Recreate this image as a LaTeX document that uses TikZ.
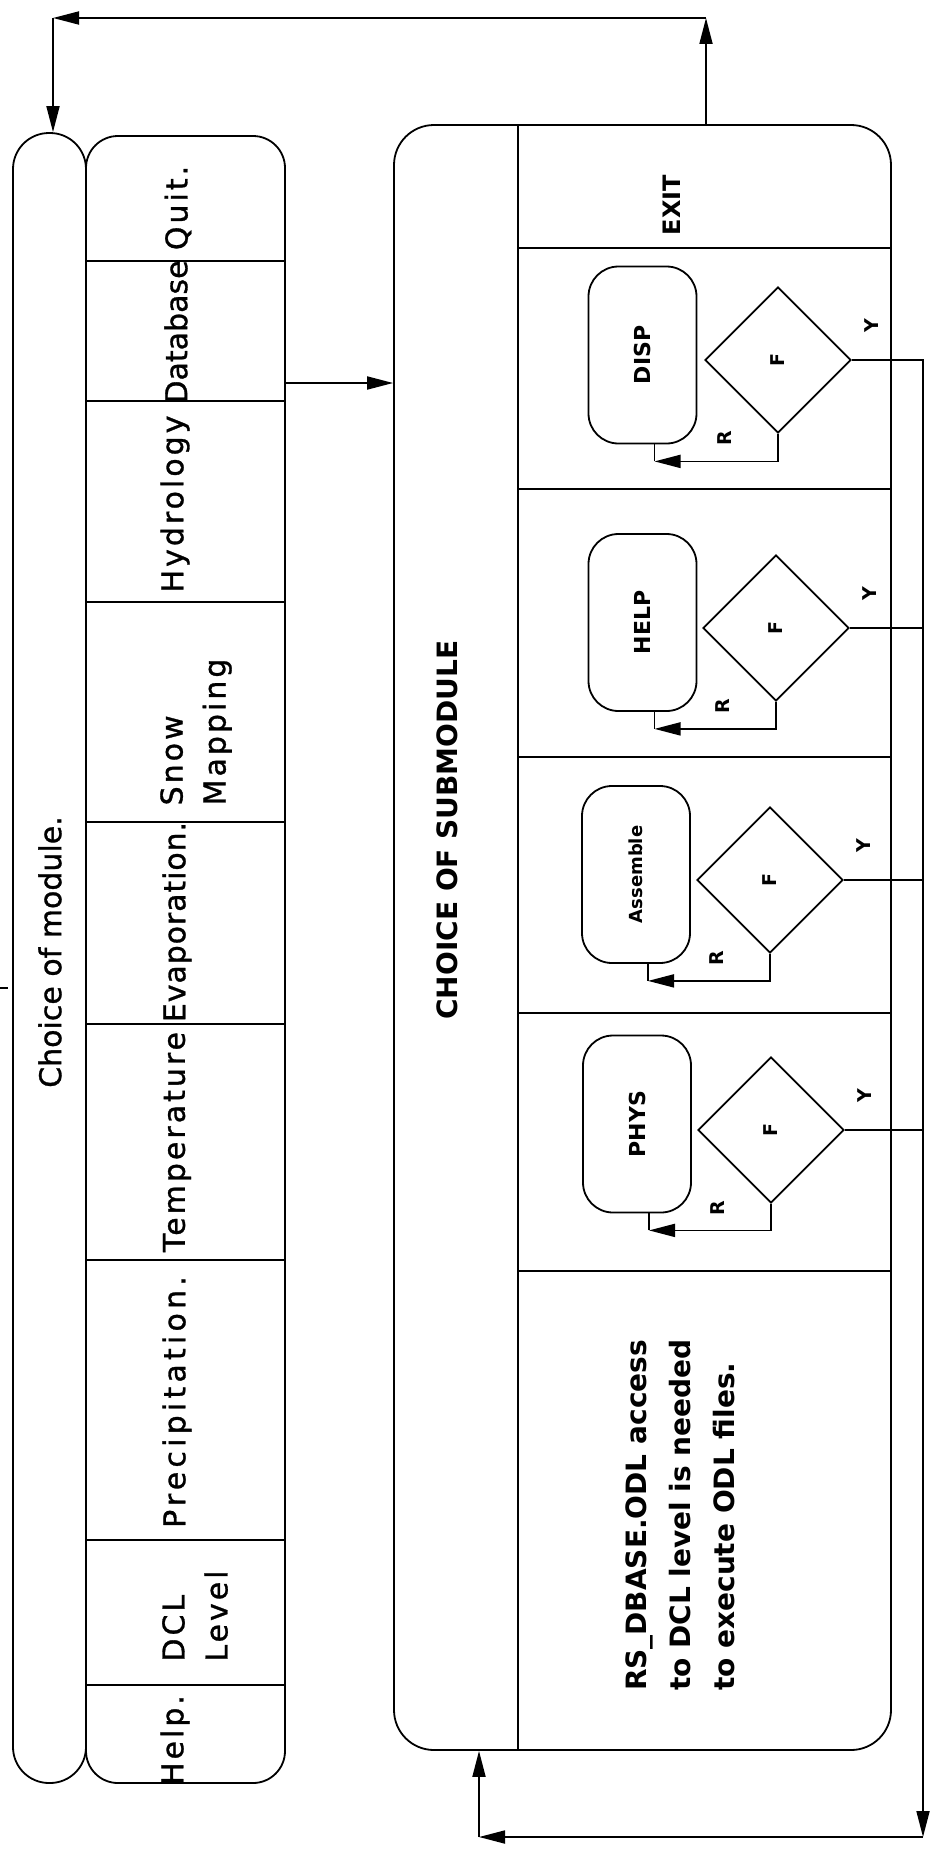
\documentclass[tikz,border=0pt]{standalone}
\usepackage{fontspec}
\setmainfont{DejaVu Sans}
\usetikzlibrary{positioning,arrows.meta,shapes.geometric}

\tikzset{
    arr/.style={-{Triangle[length=26pt,width=13pt]}},
    subbox/.style={draw, rounded corners=30pt, minimum width=108pt, minimum height=177pt, inner sep=0pt},
    test/.style={draw, diamond, minimum width=146pt, minimum height=146pt, inner sep=0pt},
    modlabel/.style={rotate=90, inner sep=0pt, align=left, font=\fontsize{30}{43}\selectfont\addfontfeature{LetterSpace=10,FakeBold=1}},
    sublabel/.style={rotate=90, inner sep=0pt, align=left, font=\bfseries\fontsize{28}{44}\selectfont},
    letter/.style={rotate=90, inner sep=0pt, font=\bfseries\fontsize{19}{22}\selectfont}
}

\begin{document}
\begin{tikzpicture}[x=1pt, y=-1pt, line width=1.8pt]
    \useasboundingbox (0,0) rectangle (932,1849);

    % Left column: choice of module
    \node[draw, rounded corners=36pt, minimum width=73pt, minimum height=1650pt, inner sep=0pt] (pill) at (49.5, 958) {};
    \node[rotate=90, inner sep=0pt, font=\fontsize{30}{36}\selectfont\addfontfeature{FakeBold=1}] (choice) at (50, 952) {Choice of module.};
    \draw (0, 988) -- (8, 988);

    \node[draw, rounded corners=32pt, minimum width=199pt, minimum height=1647pt, inner sep=0pt] (mod) at (185.5, 959.5) {};
    \foreach \y in {261, 401, 602, 822, 1024, 1260, 1540, 1685} {
        \draw (86, \y) -- (285, \y);
    }
    \node[modlabel] (quit) at (178, 208) {Quit.};
    \node[modlabel] (dbase) at (176, 332) {\addfontfeature{LetterSpace=0}Database};
    \node[modlabel] (hydro) at (175, 504) {Hydrology};
    \node[modlabel] (snow) at (196, 732) {Snow\\Mapping};
    \node[modlabel] (evap) at (177, 922) {\addfontfeature{LetterSpace=3}Evaporation.};
    \node[modlabel] (temp) at (177, 1142) {Temperature};
    \node[modlabel] (precip) at (177, 1402) {\addfontfeature{LetterSpace=14}Precipitation.};
    \node[modlabel] (dcl) at (195, 1616) {DCL\\Level};
    \node[modlabel] (help) at (175, 1740) {Help.};

    % Right column: choice of submodule
    \node[draw, rounded corners=40pt, minimum width=497pt, minimum height=1625pt, inner sep=0pt] (sub) at (642.5, 937.5) {};
    \draw (518, 125) -- (518, 1750);
    \foreach \y in {248, 489, 757, 1013, 1271} {
        \draw (518, \y) -- (891, \y);
    }
    \node[sublabel] (csub) at (447, 830) {CHOICE OF SUBMODULE};
    \node[sublabel, font=\bfseries\fontsize{24}{28}\selectfont] (exit) at (672, 205) {EXIT};
    \node[sublabel] (note) at (680, 1515) {RS\_DBASE.ODL access\\to DCL level is needed\\to execute ODL files.};

    % DISP
    \node[subbox] (disp) at (642.5, 355) {\rotatebox{90}{\bfseries\fontsize{22}{26}\selectfont DISP}};
    \node[test] (fD) at (778, 360) {};
    \node[letter] at (fD) {F};
    \coordinate (rD) at ([xshift=12pt, yshift=-17pt]disp.south);
    \draw[arr] (fD.south) |- (rD);
    \draw (rD) -- (rD |- disp.south);
    \node[letter] at ([xshift=-53pt, yshift=-4pt]fD.south) {R};
    \node[letter] at ([xshift=20pt, yshift=34pt]fD.east) {Y};

    % HELP
    \node[subbox] (hlp) at (642.5, 622.5) {\rotatebox{90}{\bfseries\fontsize{22}{26}\selectfont HELP}};
    \node[test] (fH) at (776, 628) {};
    \node[letter] at (fH) {F};
    \coordinate (rH) at ([xshift=12pt, yshift=-17pt]hlp.south);
    \draw[arr] (fH.south) |- (rH);
    \draw (rH) -- (rH |- hlp.south);
    \node[letter] at ([xshift=-53pt, yshift=-4pt]fH.south) {R};
    \node[letter] at ([xshift=20pt, yshift=34pt]fH.east) {Y};

    % Assemble
    \node[subbox] (asm) at (636, 874.5) {\rotatebox{90}{\bfseries\fontsize{18}{22}\selectfont Assemble}};
    \node[test] (fA) at (770, 880) {};
    \node[letter] at (fA) {F};
    \coordinate (rA) at ([xshift=12pt, yshift=-17pt]asm.south);
    \draw[arr] (fA.south) |- (rA);
    \draw (rA) -- (rA |- asm.south);
    \node[letter] at ([xshift=-53pt, yshift=-4pt]fA.south) {R};
    \node[letter] at ([xshift=20pt, yshift=34pt]fA.east) {Y};

    % PHYS
    \node[subbox] (phys) at (637, 1124) {\rotatebox{90}{\bfseries\fontsize{22}{26}\selectfont PHYS}};
    \node[test] (fP) at (771, 1130) {};
    \node[letter] at (fP) {F};
    \coordinate (rP) at ([xshift=12pt, yshift=-17pt]phys.south);
    \draw[arr] (fP.south) |- (rP);
    \draw (rP) -- (rP |- phys.south);
    \node[letter] at ([xshift=-53pt, yshift=-4pt]fP.south) {R};
    \node[letter] at ([xshift=20pt, yshift=34pt]fP.east) {Y};

    % module -> submodule
    \coordinate (feed) at (0, 383);
    \draw[arr] (mod.east |- feed) -- (sub.west |- feed);

    % return to choice of module
    \coordinate (tr) at (706, 18);
    \coordinate (tl) at (53, 18);
    \draw[arr] (sub.north -| tr) -- (tr);
    \draw[arr] (tr) -- (tl);
    \draw[arr] (tl) -- (tl |- pill.north);

    % return to choice of submodule
    \coordinate (br) at (923, 1837);
    \coordinate (bl) at (479, 1837);
    \draw[arr] (fD.east) -| (br);
    \draw (fH.east) -- (fH.east -| br);
    \draw (fA.east) -- (fA.east -| br);
    \draw (fP.east) -- (fP.east -| br);
    \draw[arr] (br) -- (bl);
    \draw[arr] (bl) -- (bl |- sub.south);
\end{tikzpicture}
\end{document}
